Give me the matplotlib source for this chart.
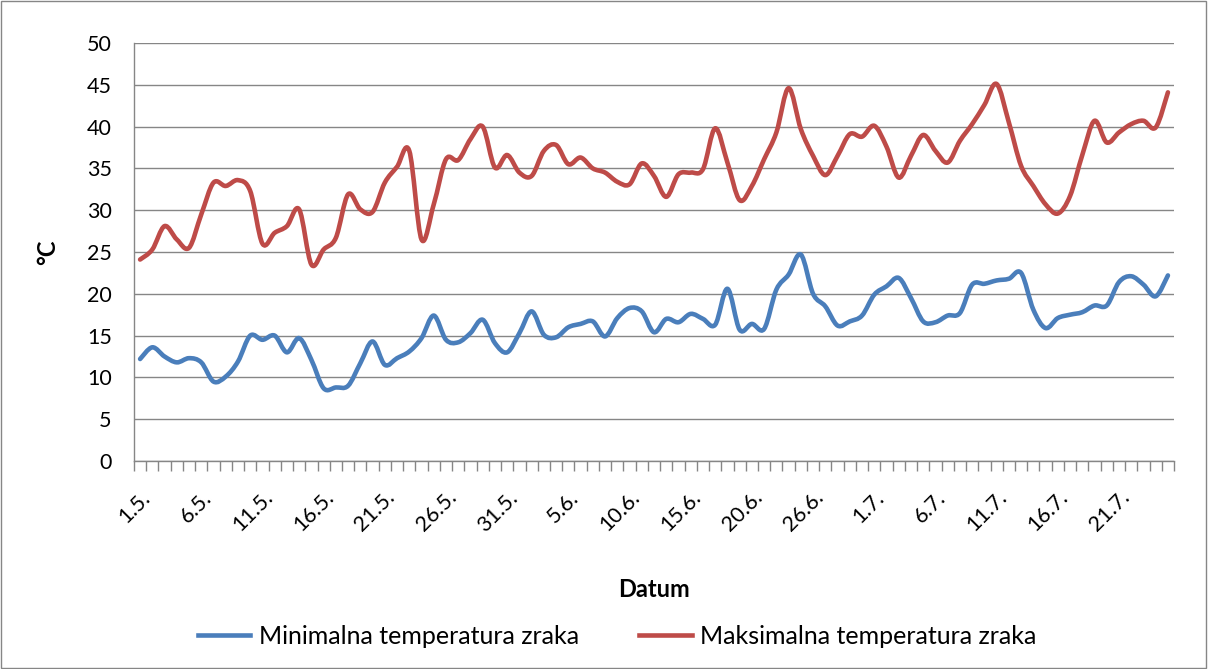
import matplotlib
matplotlib.use("Agg")
import matplotlib.pyplot as plt
from matplotlib.path import Path
from matplotlib.patches import PathPatch, Rectangle
from matplotlib.lines import Line2D

# datumi (nedostaje jedan dan u lipnju)
dates = ([f"{d}.5." for d in range(1, 32)]
         + [f"{d}.6." for d in range(1, 31) if d != 23]
         + [f"{d}.7." for d in range(1, 26)])

t_min = [12.2, 13.6, 12.5, 11.8, 12.3, 11.8, 9.5, 10.1, 11.9, 15.0,
         14.5, 15.0, 13.0, 14.7, 12.1, 8.7, 8.8, 9.0, 11.7, 14.3,
         11.5, 12.3, 13.1, 14.7, 17.4, 14.5, 14.2, 15.3, 16.9, 14.1,
         13.0, 15.3, 17.9, 15.1, 14.8, 16.0, 16.4, 16.7, 14.9, 17.1,
         18.3, 17.9, 15.4, 17.0, 16.6, 17.6, 17.0, 16.3, 20.6, 15.7,
         16.4, 15.8, 20.5, 22.3, 24.7, 20.0, 18.5, 16.2, 16.7, 17.4,
         19.9, 20.9, 21.9, 19.5, 16.7, 16.6, 17.4, 17.7, 21.1, 21.2,
         21.6, 21.8, 22.5, 18.1, 15.9, 17.1, 17.5, 17.8, 18.6, 18.6,
         21.4, 22.1, 21.1, 19.7, 22.2]

t_max = [24.1, 25.3, 28.1, 26.5, 25.5, 29.5, 33.3, 32.9, 33.6, 32.3,
         26.0, 27.3, 28.1, 30.1, 23.5, 25.3, 26.7, 31.9, 30.1, 29.8,
         33.3, 35.2, 37.1, 26.5, 30.7, 36.1, 36.0, 38.5, 40.0, 35.1,
         36.6, 34.5, 34.1, 37.1, 37.8, 35.5, 36.3, 35.0, 34.5, 33.4,
         33.1, 35.6, 34.1, 31.6, 34.3, 34.5, 34.9, 39.8, 35.7, 31.2,
         32.9, 36.1, 39.3, 44.6, 39.7, 36.5, 34.2, 36.5, 39.1, 38.8,
         40.1, 37.6, 33.9, 36.5, 39.0, 37.1, 35.7, 38.3, 40.3, 42.6,
         45.1, 40.5, 35.3, 32.9, 30.7, 29.6, 31.7, 36.6, 40.7, 38.1,
         39.3, 40.3, 40.7, 39.9, 44.1]

yticks = list(range(0, 51, 5))

blue = "#4A7EBB"
red = "#BE4B48"
grid_c = "#868686"

plt.rcParams["font.family"] = ["Lato", "DejaVu Sans"]


def smooth_path(ys):
    # glatka linija kao u Excelu (Bezier kroz točke)
    pts = list(enumerate(ys))
    n = len(pts)
    verts = [pts[0]]
    codes = [Path.MOVETO]
    for i in range(n - 1):
        p0 = pts[i - 1] if i > 0 else pts[i]
        p1 = pts[i]
        p2 = pts[i + 1]
        p3 = pts[i + 2] if i + 2 < n else pts[i + 1]
        c1 = (p1[0] + (p2[0] - p0[0]) / 6, p1[1] + (p2[1] - p0[1]) / 6)
        c2 = (p2[0] - (p3[0] - p1[0]) / 6, p2[1] - (p3[1] - p1[1]) / 6)
        verts += [c1, c2, p2]
        codes += [Path.CURVE4] * 3
    return Path(verts, codes)


fig = plt.figure(figsize=(12.08, 6.69), dpi=100)
ax = fig.add_axes([0.1109, 0.3109, 0.8610, 0.6248])

for ys, c in [(t_min, blue), (t_max, red)]:
    ax.add_patch(PathPatch(smooth_path(ys), facecolor="none", edgecolor=c,
                           lw=3.3, capstyle="round", joinstyle="round", zorder=3))

n = len(dates)
ax.set_xlim(-0.5, n - 0.5)
ax.set_ylim(0, 50)
ax.set_yticks(yticks)
ax.set_yticklabels([str(v) for v in yticks], fontsize=15.5)
ax.grid(axis="y", color=grid_c, lw=1.0)
ax.set_axisbelow(True)

ax.set_xticks(range(0, n, 5))
ax.set_xticklabels(dates[::5], rotation=45, ha="right", va="top",
                   rotation_mode="anchor", fontsize=15.5)
ax.set_xticks([i - 0.5 for i in range(n + 1)], minor=True)
ax.tick_params(axis="x", which="major", length=0, pad=19)
ax.tick_params(axis="x", which="minor", length=7, color=grid_c, width=1)
ax.tick_params(axis="y", length=0, pad=16)

for s in ["top", "right"]:
    ax.spines[s].set_visible(False)
for s in ["left", "bottom"]:
    ax.spines[s].set_color(grid_c)
    ax.spines[s].set_linewidth(1.0)

ax.set_ylabel("°C", fontsize=17, fontweight="bold", labelpad=20)
ax.set_xlabel("Datum", fontsize=17, fontweight="bold", labelpad=31)

handles = [Line2D([], [], color=blue, lw=3.3),
           Line2D([], [], color=red, lw=3.3)]
fig.legend(handles, ["Minimalna temperatura zraka", "Maksimalna temperatura zraka"],
           loc="center", bbox_to_anchor=(0.511, 0.049), ncol=2, frameon=False,
           fontsize=18, handlelength=2.1, columnspacing=2.4, handletextpad=0.35)

fig.patches.append(Rectangle((0.001, 0.002), 0.997, 0.996, transform=fig.transFigure,
                             fill=False, edgecolor=grid_c, lw=1.0))

fig.savefig("out.png", dpi=100)
